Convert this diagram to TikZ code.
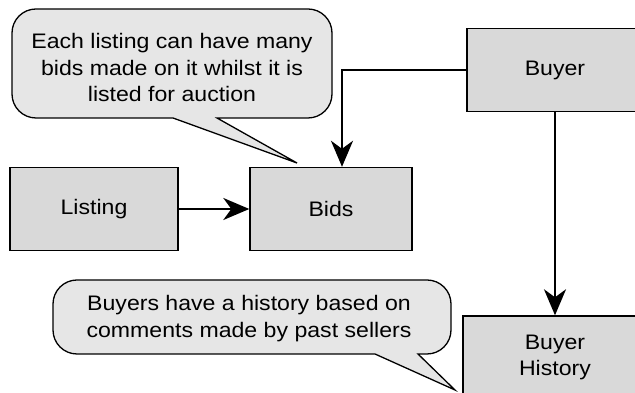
\documentclass[tikz,border=0pt]{standalone}
\usepackage{fontspec}
\setmainfont[FakeStretch=1.1]{Liberation Sans}
\usetikzlibrary{arrows.meta}
\definecolor{boxfill}{HTML}{D9D9D9}
\definecolor{callfill}{HTML}{E6E6E6}
\tikzset{
  entity/.style={draw=black, line width=1.4pt, fill=boxfill, minimum width=#1, minimum height=83pt, inner sep=0pt, font=\fontsize{21}{26.5}\selectfont, align=center},
  conn/.style={line width=2.3pt, -{Stealth[length=26pt, width=22pt, inset=8pt]}},
  callout/.style={draw=black, line width=1.3pt, fill=callfill, line join=miter},
  calltext/.style={font=\fontsize{21}{26.5}\selectfont, align=center, inner sep=0pt}
}
\begin{document}
\begin{tikzpicture}[x=1pt,y=1pt]
\useasboundingbox (0,0) rectangle (635,393);
\clip (0,0) rectangle (635,393);
% boxes
\node[entity=168pt] (listing) at (94,184) {Listing};
\node[entity=162pt] (bids) at (331,184) {Bids};
\node[entity=176pt] (buyer) at (555,323) {Buyer};
\node[entity=184pt] (history) at (555,35.5) {Buyer\\History};
% connectors
\draw[conn] (listing.east) -- (bids.west);
\draw[conn] (buyer.west) -| ([xshift=11pt]bids.north);
\draw[conn] (buyer.south) -- (history.north);
% callout 1
\def\r{24}
\draw[callout] (173,275) -- (12+\r,275) arc[start angle=270,end angle=180,radius=\r]
  -- (12,384-\r) arc[start angle=180,end angle=90,radius=\r]
  -- (332-\r,384) arc[start angle=90,end angle=0,radius=\r]
  -- (332,275+\r) arc[start angle=0,end angle=-90,radius=\r]
  -- (217,275) -- (297,230) -- cycle;
\node[calltext] (c1) at (172,325) {Each listing can have many\\bids made on it whilst it is\\listed for auction};
% callout 2
\draw[callout] (375,39) -- (53+\r,39) arc[start angle=270,end angle=180,radius=\r]
  -- (53,113-\r) arc[start angle=180,end angle=90,radius=\r]
  -- (451-\r,113) arc[start angle=90,end angle=0,radius=\r]
  -- (451,39+\r) arc[start angle=0,end angle=-90,radius=\r]
  -- (418,39) -- (455,3) -- cycle;
\node[calltext] (c2) at (249,74.5) {Buyers have a history based on\\comments made by past sellers};
\end{tikzpicture}
\end{document}
